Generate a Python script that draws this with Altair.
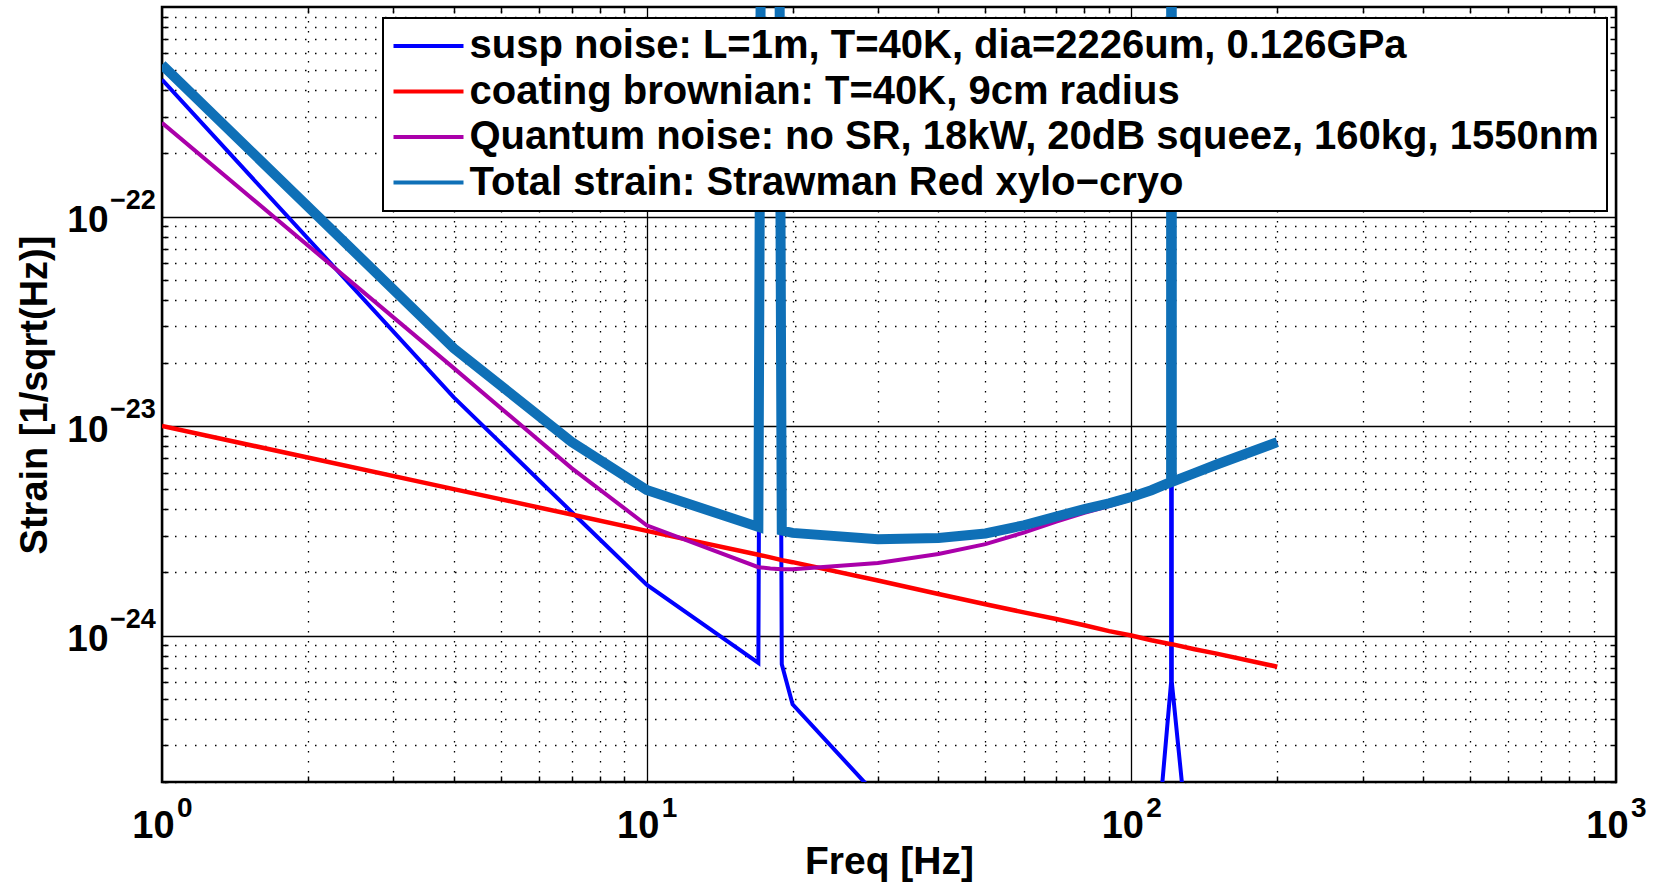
import altair as alt
import pandas as pd

# ---- data ----
freq = [1, 4, 7, 10, 17, 18, 19, 20, 30, 40, 50, 60, 70, 80, 90, 100, 110,
        120.8, 121, 121.2, 135, 150, 200]

susp = [4.5e-22, 1.37e-23, 3.89e-24, 1.75e-24, 7.4e-25, 1e-10, 7.3e-25, 4.7e-25,
        1.7e-25, 8e-26, 5e-26, 3.5e-26, 3e-26, 2.8e-26, 3e-26, 3.5e-26, 5e-26,
        6e-25, 1e-10, 6e-25, 5e-26, 2.5e-26, 1e-26]

coating = [1.0e-23, 5.0e-24, 3.78e-24, 3.16e-24, 2.43e-24, 2.36e-24, 2.29e-24, 2.24e-24,
           1.83e-24, 1.58e-24, 1.41e-24, 1.29e-24, 1.20e-24, 1.12e-24, 1.05e-24, 1.0e-24,
           9.5e-25, 9.1e-25, 9.1e-25, 9.1e-25, 8.6e-25, 8.2e-25, 7.1e-25]

quantum = [2.8e-22, 1.89e-23, 6.3e-24, 3.36e-24, 2.12e-24, 2.09e-24, 2.07e-24, 2.07e-24,
           2.22e-24, 2.45e-24, 2.73e-24, 3.1e-24, 3.5e-24, 3.85e-24, 4.15e-24, 4.47e-24,
           4.85e-24, 5.3e-24, 5.3e-24, 5.3e-24, 5.9e-24, 6.5e-24, 8.35e-24]

total = [5.3e-22, 2.35e-23, 8.4e-24, 4.95e-24, 3.3e-24, 1e-10, 3.17e-24, 3.09e-24,
         2.88e-24, 2.92e-24, 3.07e-24, 3.36e-24, 3.70e-24, 4.01e-24, 4.28e-24, 4.58e-24,
         4.94e-24, 5.41e-24, 1e-10, 5.41e-24, 5.96e-24, 6.55e-24, 8.38e-24]

series_names = [
    "susp noise: L=1m, T=40K, dia=2226um, 0.126GPa",
    "coating brownian: T=40K, 9cm radius",
    "Quantum noise: no SR, 18kW, 20dB squeez, 160kg, 1550nm",
    "Total strain: Strawman Red xylo\u2212cryo",
]
colors = ["#0000FF", "#FF0000", "#AA00AA", "#0F70B7"]
widths = [4, 4.5, 4, 10]

# axis ticks and tick label pieces ("10" with an exponent)
x_major = [1, 10, 100, 1000]
x_exp = ["0", "1", "2", "3"]
x_minor = [m * d for d in (1, 10, 100) for m in range(2, 10)]
y_major = [1e-24, 1e-23, 1e-22]
y_exp = ["\u221224", "\u221223", "\u221222"]
y_minor = [m * d for d in (1e-25, 1e-24, 1e-23, 1e-22) for m in range(2, 10)]

rows = []
for name, vals in zip(series_names, [susp, coating, quantum, total]):
    for f, v in zip(freq, vals):
        rows.append({"f": f, "value": v, "series": name})
df = pd.DataFrame(rows)
xexp_df = pd.DataFrame({"f": x_major, "t": x_exp})
yexp_df = pd.DataFrame({"value": y_major, "t": y_exp})

xscale = alt.Scale(type="log", domain=[1, 1000], nice=False)
yscale = alt.Scale(type="log", domain=[2e-25, 1e-21], nice=False)

font = "Liberation Sans, Arial, Helvetica, sans-serif"


def tick_axis(orient, values, size):
    # an axis drawn just inside the frame so that its ticks point inward
    return alt.Axis(orient=orient, values=values, labels=False, ticks=True,
                    tickSize=size, tickColor="black", tickWidth=1.5, offset=-size,
                    domain=False, grid=False, title=None)


# minor dotted grid (top / right axes, no labels)
minor = alt.Chart(df).mark_line(opacity=0, clip=True).encode(
    x=alt.X("f:Q", scale=xscale, axis=alt.Axis(
        orient="top", values=x_minor, labels=False, ticks=False, domain=False,
        title=None, grid=True, gridColor="black", gridOpacity=1, gridWidth=1.3,
        gridDash=[1.5, 8.5])),
    y=alt.Y("value:Q", scale=yscale, axis=alt.Axis(
        orient="right", values=y_minor, labels=False, ticks=False, domain=False,
        title=None, grid=True, gridColor="black", gridOpacity=1, gridWidth=1.3,
        gridDash=[1.5, 8.5])),
)

# major solid grid + "10" labels (bottom / left axes)
major = alt.Chart(df).mark_line(opacity=0, clip=True).encode(
    x=alt.X("f:Q", scale=xscale, axis=alt.Axis(
        orient="bottom", values=x_major, labelExpr="'10'", ticks=False, tickSize=0,
        domain=False, grid=True, gridColor="black", gridOpacity=1, gridWidth=1.3,
        title="Freq [Hz]", labelFontSize=38, labelFontWeight="bold",
        labelBaseline="alphabetic", labelPadding=55, labelOffset=-9, labelFlush=False,
        labelColor="black", titleFontSize=39, titleFontWeight="bold",
        titleBaseline="alphabetic", titleY=91,
        titleColor="black", labelFont=font, titleFont=font)),
    y=alt.Y("value:Q", scale=yscale, axis=alt.Axis(
        orient="left", values=y_major, labelExpr="'10'", ticks=False, tickSize=0,
        domain=False, grid=True, gridColor="black", gridOpacity=1, gridWidth=1.3,
        title="Strain [1/sqrt(Hz)]", labelFontSize=37, labelFontWeight="bold",
        labelBaseline="alphabetic", labelOffset=15, labelFlush=False,
        labelPadding=54, labelColor="black", titleFontSize=38, titleFontWeight="bold",
        titlePadding=12, titleColor="black", labelFont=font, titleFont=font)),
)

# inward tick marks on all four sides of the frame
ticks_bl = alt.Chart(df).mark_line(opacity=0, clip=True).encode(
    x=alt.X("f:Q", scale=xscale, axis=tick_axis("bottom", x_minor, 6)),
    y=alt.Y("value:Q", scale=yscale, axis=tick_axis("left", y_minor, 6)),
)
ticks_tr = alt.Chart(df).mark_line(opacity=0, clip=True).encode(
    x=alt.X("f:Q", scale=xscale, axis=tick_axis("top", x_minor, 6)),
    y=alt.Y("value:Q", scale=yscale, axis=tick_axis("right", y_minor, 6)),
)

# exponents of the tick labels
x_sup = alt.Chart(xexp_df).mark_text(
    align="left", baseline="alphabetic", dx=15, fontSize=28, fontWeight="bold",
    font=font, color="black",
).encode(x=alt.X("f:Q", scale=xscale, axis=None), y=alt.value(810), text="t:N")

y_sup = alt.Chart(yexp_df).mark_text(
    align="left", baseline="alphabetic", dy=-8, fontSize=27, fontWeight="bold",
    font=font, color="black",
).encode(y=alt.Y("value:Q", scale=yscale, axis=None), x=alt.value(-52), text="t:N")

legend = alt.Legend(
    title=None, orient="none", legendX=221, legendY=11,
    symbolType="M-2,0H2", symbolSize=1225, symbolOffset=17.5, symbolStrokeWidth=4,
    labelFont=font, labelFontSize=40, labelFontWeight="bold",
    labelColor="black", labelLimit=3000, labelOffset=21, rowPadding=5.5,
    padding=8, fillColor="white", strokeColor="black",
)

layers = [minor, major, ticks_bl, ticks_tr]
for name, w in zip(series_names, widths):
    layers.append(
        alt.Chart(df).transform_filter(alt.datum.series == name)
        .mark_line(clip=True, strokeWidth=w)
        .encode(
            x=alt.X("f:Q", scale=xscale, axis=None),
            y=alt.Y("value:Q", scale=yscale, axis=None),
            color=alt.Color("series:N", sort=series_names,
                            scale=alt.Scale(domain=series_names, range=colors),
                            legend=legend),
        )
    )
layers += [x_sup, y_sup]

chart = (
    alt.layer(*layers)
    .resolve_axis(x="independent", y="independent")
    .properties(
        width=1454, height=775,
        padding={"left": 162, "top": 7, "right": 44, "bottom": 101},
        autosize=alt.AutoSizeParams(type="none"),
        background="white",
    )
    .configure_view(stroke="black", strokeWidth=2.5)
    .configure_legend(strokeWidth=2)
)

chart.save("out.html", embed_options={"renderer": "svg", "actions": False})
